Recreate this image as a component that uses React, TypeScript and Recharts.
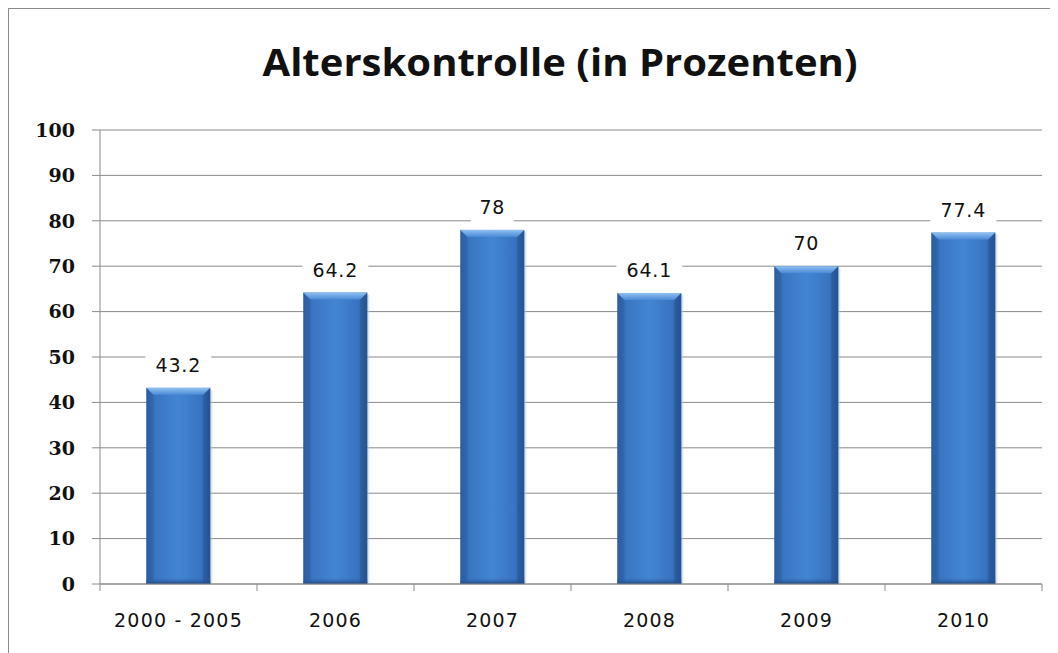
import React from 'react';
import { BarChart, Bar, XAxis, YAxis, CartesianGrid, LabelList } from 'recharts';

const categories = ['2000 - 2005', '2006', '2007', '2008', '2009', '2010'];
const values = [43.2, 64.2, 78, 64.1, 70, 77.4];
const yTicks = [0, 10, 20, 30, 40, 50, 60, 70, 80, 90, 100];
const title = 'Alterskontrolle (in Prozenten)';

const data = categories.map((name, i) => ({ name, value: values[i] }));

const GRID = '#8a8a8a';

const XTick = (props: any) => {
  const { x, y, payload, index } = props;
  const off = payload && payload.offset != null ? payload.offset : 0;
  return (
    <g>
      <line x1={x - off} x2={x - off} y1={y} y2={y + 7} stroke={GRID} />
      {index === categories.length - 1 && (
        <line x1={x + off} x2={x + off} y1={y} y2={y + 7} stroke={GRID} />
      )}
      <text
        x={x}
        y={y + 43}
        textAnchor="middle"
        fontFamily="DejaVu Sans"
        fontSize={19}
        letterSpacing={1.2}
        fill="#111"
      >
        {payload.value}
      </text>
    </g>
  );
};

const BarShape = (props: any) => {
  const { x, y, width, height } = props;
  if (!height || height <= 0) return null;
  const bev = 7;
  return (
    <g>
      <rect x={x + 2} y={y + 2} width={width} height={height - 1} fill="#b9c9dc" opacity={0.5} />
      <rect x={x} y={y} width={width} height={height} fill="url(#barGrad)" />
      <rect x={x} y={y + height - 6} width={width} height={6} fill="url(#barBottom)" />
      <polygon
        points={`${x},${y} ${x + width},${y} ${x + width - bev},${y + bev} ${x + bev},${y + bev}`}
        fill="url(#barTop)"
      />
      <polygon points={`${x},${y} ${x + bev},${y + bev} ${x + bev},${y + height} ${x},${y + height}`} fill="#2a5a9c" opacity={0.35} />
      <polygon
        points={`${x + width},${y} ${x + width - bev},${y + bev} ${x + width - bev},${y + height} ${x + width},${y + height}`}
        fill="#1f4a85"
        opacity={0.35}
      />
    </g>
  );
};

const ValueLabel = (props: any) => {
  const { x, y, width, value } = props;
  const cx = x + width / 2;
  const txt = String(value);
  const w = txt.length * 11.5 + 20;
  return (
    <g>
      <rect x={cx - w / 2} y={y - 37} width={w} height={31} fill="#fff" />
      <text
        x={cx}
        y={y - 16}
        textAnchor="middle"
        fontFamily="DejaVu Sans"
        fontSize={19}
        letterSpacing={0.8}
        fill="#111"
      >
        {txt}
      </text>
    </g>
  );
};

export default function App() {
  return (
    <div
      style={{
        position: 'relative',
        width: 1049,
        height: 644,
        borderLeft: '1px solid #8c8c8c',
        borderTop: '1px solid #8c8c8c',
        background: '#fff',
      }}
    >
      <BarChart
        width={1049}
        height={644}
        data={data}
        margin={{ top: 121, right: 16, bottom: 29, left: 0 }}
        barCategoryGap="29.5%"
      >
        <defs>
          <linearGradient id="barGrad" x1="0" y1="0" x2="1" y2="0">
            <stop offset="0%" stopColor="#2c5fa3" />
            <stop offset="15%" stopColor="#3a76c2" />
            <stop offset="50%" stopColor="#4385d2" />
            <stop offset="85%" stopColor="#3874c0" />
            <stop offset="100%" stopColor="#28569a" />
          </linearGradient>
          <linearGradient id="barTop" x1="0" y1="0" x2="0" y2="1">
            <stop offset="0%" stopColor="#8fc0f2" />
            <stop offset="100%" stopColor="#4a8ad6" />
          </linearGradient>
          <linearGradient id="barBottom" x1="0" y1="0" x2="0" y2="1">
            <stop offset="0%" stopColor="#2f64aa" stopOpacity={0} />
            <stop offset="100%" stopColor="#1f4780" />
          </linearGradient>
        </defs>
        <CartesianGrid vertical={false} stroke={GRID} strokeDasharray="" />
        <XAxis
          dataKey="name"
          height={40}
          tickSize={0}
          tickMargin={0}
          tickLine={false}
          axisLine={{ stroke: GRID }}
          tick={<XTick />}
          interval={0}
        />
        <YAxis
          width={91}
          domain={[0, 100]}
          ticks={yTicks}
          interval={0}
          tickSize={8}
          tickMargin={17}
          axisLine={{ stroke: GRID }}
          tickLine={{ stroke: GRID }}
          tick={{ fill: '#111', fontFamily: 'DejaVu Serif', fontWeight: 'bold', fontSize: 19 }}
        />
        <Bar dataKey="value" shape={<BarShape />} isAnimationActive={false}>
          <LabelList dataKey="value" content={<ValueLabel />} />
        </Bar>
      </BarChart>
      <svg
        width={1049}
        height={110}
        style={{ position: 'absolute', left: 0, top: 0, pointerEvents: 'none' }}
      >
        <text
          x={551}
          y={67}
          textAnchor="middle"
          fontFamily="Open Sans"
          fontWeight="bold"
          fontSize={38}
          textLength={595}
          lengthAdjust="spacingAndGlyphs"
          fill="#111"
        >
          {title}
        </text>
      </svg>
    </div>
  );
}
